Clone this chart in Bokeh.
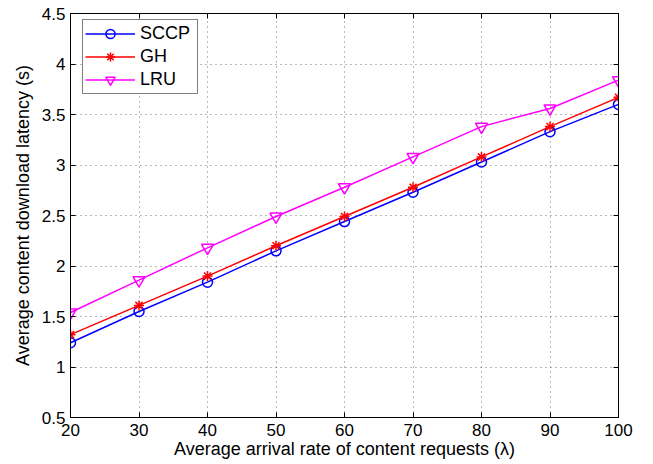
from bokeh.plotting import figure
from bokeh.models import Range1d, LinearAxis, FixedTicker, Legend, LegendItem
from bokeh.embed import file_html
from bokeh.resources import INLINE

# ---- data ----
arrival_rate = [20, 30, 40, 50, 60, 70, 80, 90, 100]
sccp = [1.24, 1.55, 1.84, 2.15, 2.44, 2.73, 3.03, 3.33, 3.60]
gh = [1.32, 1.61, 1.90, 2.20, 2.49, 2.78, 3.08, 3.38, 3.67]
lru = [1.54, 1.86, 2.18, 2.49, 2.78, 3.08, 3.38, 3.56, 3.84]

x_ticks = [20, 30, 40, 50, 60, 70, 80, 90, 100]
x_tick_labels = ["20", "30", "40", "50", "60", "70", "80", "90", "100"]
y_ticks = [0.5, 1, 1.5, 2, 2.5, 3, 3.5, 4, 4.5]
y_tick_labels = ["0.5", "1", "1.5", "2", "2.5", "3", "3.5", "4", "4.5"]

x_label = "Average arrival rate of content requests (λ)"
y_label = "Average content download latency (s)"

FONT = "Liberation Sans"

p = figure(width=653, height=464, output_backend="svg", toolbar_location=None,
           x_range=Range1d(20, 100), y_range=Range1d(0.5, 4.5),
           min_border_left=70, min_border_right=35, min_border_top=13,
           min_border_bottom=47, background_fill_color="white",
           border_fill_color="white")

p.outline_line_color = "black"
p.outline_line_width = 1


def style_axis(ax, ticks, labels, show_labels=True):
    ax.ticker = FixedTicker(ticks=ticks)
    ax.major_tick_in = 5
    ax.major_tick_out = 0
    ax.minor_tick_in = 0
    ax.minor_tick_out = 0
    ax.axis_line_color = "black"
    ax.axis_line_width = 1
    ax.major_tick_line_color = "black"
    ax.major_label_text_font = FONT
    if show_labels:
        ax.major_label_overrides = {t: l for t, l in zip(ticks, labels)}
        ax.major_label_text_font_size = "17px"
        ax.major_label_text_color = "black"
    else:
        ax.major_label_text_font_size = "1px"
        ax.major_label_text_color = None
        ax.major_label_standoff = 0


xa = p.xaxis[0]
ya = p.yaxis[0]
style_axis(xa, x_ticks, x_tick_labels)
style_axis(ya, y_ticks, y_tick_labels)
xa.major_label_standoff = 6
ya.major_label_standoff = 5
xa.axis_label = x_label
ya.axis_label = y_label
for ax in (xa, ya):
    ax.axis_label_text_font = FONT
    ax.axis_label_text_font_style = "normal"
    ax.axis_label_text_font_size = "18px"
    ax.axis_label_text_color = "black"
xa.axis_label_standoff = 0
ya.axis_label_standoff = 6

top_ax = LinearAxis()
style_axis(top_ax, x_ticks, x_tick_labels, show_labels=False)
p.add_layout(top_ax, "above")
right_ax = LinearAxis()
style_axis(right_ax, y_ticks, y_tick_labels, show_labels=False)
p.add_layout(right_ax, "right")

for g in (p.xgrid[0], p.ygrid[0]):
    g.grid_line_color = "black"
    g.grid_line_alpha = 0.55
    g.grid_line_dash = "1 4"
    g.grid_line_width = 1
p.xgrid[0].ticker = FixedTicker(ticks=x_ticks)
p.ygrid[0].ticker = FixedTicker(ticks=y_ticks)

series = [
    ("SCCP", sccp, "#0000FF", "circle", 10),
    ("GH", gh, "#FF0000", "asterisk", 10),
    ("LRU", lru, "#FF00FF", "inverted_triangle", 12),
]

items = []
for name, vals, color, marker, size in series:
    ln = p.line(arrival_rate, vals, line_color=color, line_width=1.5)
    sc = p.scatter(arrival_rate, vals, marker=marker, size=size,
                   line_color=color, fill_color=None, line_width=1.5)
    items.append(LegendItem(label=name, renderers=[ln, sc]))

legend = Legend(items=items, location=(12, 323))
legend.border_line_color = "black"
legend.border_line_width = 1
legend.background_fill_color = "white"
legend.background_fill_alpha = 1
legend.padding = 2
legend.spacing = 0
legend.margin = 0
legend.label_height = 23
legend.glyph_height = 23
legend.glyph_width = 50
legend.label_width = 55
legend.label_standoff = 5
legend.label_text_font = FONT
legend.label_text_font_size = "18px"
legend.label_text_color = "black"
p.add_layout(legend, "center")

open("out.html", "w").write(file_html(p, INLINE))
